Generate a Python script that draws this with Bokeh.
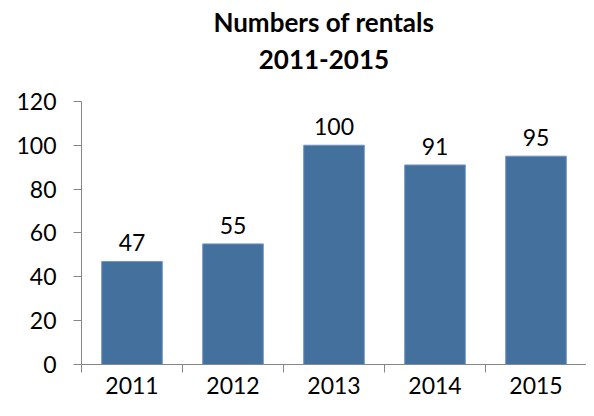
from bokeh.plotting import figure
from bokeh.models import Range1d, FixedTicker, ColumnDataSource
from bokeh.embed import file_html
from bokeh.resources import INLINE
from bokeh.core.properties import value

# ---- data ----
years = ["2011", "2012", "2013", "2014", "2015"]
rentals = [47, 55, 100, 91, 95]
y_ticks = [0, 20, 40, 60, 80, 100, 120]
title_lines = ["Numbers of rentals", "2011-2015"]

centers = [i + 0.5 for i in range(len(years))]
src = ColumnDataSource(dict(x=centers, top=rentals, lbl=[str(v) for v in rentals]))

FONT = "Lato"
BAR = "#44709d"
Y_MAX_AXIS = 120
Y_TOP = 166  # room above the axis for the title

p = figure(width=586, height=400, output_backend="svg", toolbar_location=None, title=None,
           x_range=Range1d(0, len(years)), y_range=Range1d(0, Y_TOP),
           min_border_left=81, min_border_right=0, min_border_top=0, min_border_bottom=36)
p.outline_line_color = None
p.xgrid.visible = False
p.ygrid.visible = False

p.vbar(x="x", top="top", width=0.6, source=src, fill_color=BAR, line_color="#6f95c6", line_width=1)
p.text(x="x", y="top", text="lbl", source=src, text_font=value(FONT), text_font_size="23px",
       text_align="center", text_baseline="bottom", y_offset=-10, text_color="black")

# title, drawn as text in the space above the axis
p.text(x=[2.40, 2.40], y=[156.3, 139.0], text=title_lines, text_font=value(FONT),
       text_font_size="26px", text_font_style="bold", text_align="center",
       text_baseline="alphabetic", text_color="black")

axis_col = "#868686"
# y axis
ya = p.yaxis[0]
ya.bounds = (0, Y_MAX_AXIS)
ya.ticker = FixedTicker(ticks=y_ticks)
ya.axis_line_color = axis_col
ya.major_tick_line_color = axis_col
ya.major_tick_out = 8
ya.major_tick_in = 0
ya.minor_tick_line_color = None
ya.major_label_text_font = FONT
ya.major_label_text_font_size = "23px"
ya.major_label_text_color = "black"
ya.major_label_standoff = 17

# x axis: labels at centres, tick marks at category boundaries
xa = p.xaxis[0]
xa.ticker = FixedTicker(ticks=centers, minor_ticks=list(range(len(years) + 1)))
xa.major_label_overrides = {c: y for c, y in zip(centers, years)}
xa.axis_line_color = axis_col
xa.major_tick_line_color = None
xa.major_tick_out = 0
xa.major_tick_in = 0
xa.minor_tick_line_color = axis_col
xa.minor_tick_out = 8
xa.minor_tick_in = 0
xa.major_label_text_font = FONT
xa.major_label_text_font_size = "23px"
xa.major_label_text_color = "black"
xa.major_label_standoff = 4

open("out.html", "w").write(file_html(p, INLINE))
